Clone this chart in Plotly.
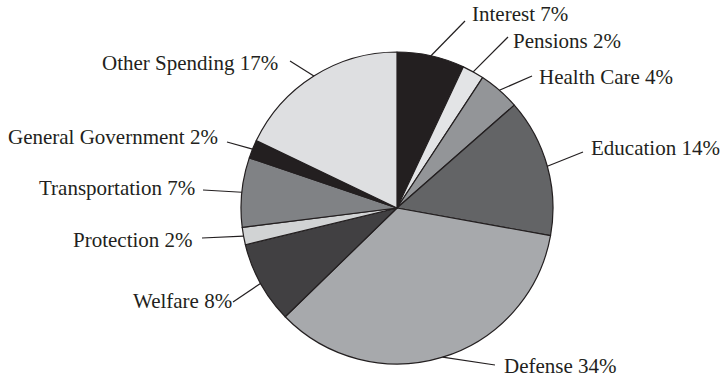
import math
import plotly.graph_objects as go

# ---- data ----
categories = ["Interest", "Pensions", "Health Care", "Education", "Defense",
              "Welfare", "Protection", "Transportation", "General Government",
              "Other Spending"]
shares = [7.0, 2.25, 4.3, 14.3, 34.9, 8.5, 1.8, 7.2, 1.9, 17.9]
pct_labels = ["7%", "2%", "4%", "14%", "34%", "8%", "2%", "7%", "2%", "17%"]

# ---- styles / layout ----
colors = ["#231f20", "#e3e4e6", "#939598", "#636466", "#a7a9ac",
          "#414042", "#d1d3d4", "#808285", "#231f20", "#dedfe1"]
W, H = 724, 380
CX, CY, R = 397, 208, 156
# text anchor (px): x edge, y centre, side ; leader end point (px)
label_pos = [
    (470, 14, "left", 465, 21),
    (511, 41, "left", 508, 37),
    (537, 77, "left", 532, 76),
    (589, 148, "left", 583, 152),
    (502, 366, "left", 495, 365),
    (234, 301, "right", 233, 302),
    (195, 240, "right", 202, 238),
    (197, 188, "right", 203, 190),
    (220, 137, "right", 227, 142),
    (280, 63, "right", 290, 61),
]

def px(x):
    return x / W

def py(y):
    return 1 - y / H

fig = go.Figure(go.Pie(
    labels=categories, values=shares, sort=False, direction="clockwise",
    rotation=0, textinfo="none", hoverinfo="label+percent",
    marker=dict(colors=colors, line=dict(color="#231f20", width=1.2)),
    domain=dict(x=[px(CX - R), px(CX + R)], y=[py(CY + R), py(CY - R)]),
))

total = sum(shares)
cum = 0.0
shapes, annotations = [], []
for cat, v, lab, pos in zip(categories, shares, pct_labels, label_pos):
    mid = (cum + v / 2) / total * 2 * math.pi
    cum += v
    sx = CX + R * math.sin(mid)
    sy = CY - R * math.cos(mid)
    tx, ty, side, ex, ey = pos
    shapes.append(dict(type="line", xref="paper", yref="paper",
                       x0=px(sx), y0=py(sy), x1=px(ex), y1=py(ey),
                       line=dict(color="#231f20", width=1.2)))
    annotations.append(dict(text=f"{cat} {lab}", xref="paper", yref="paper",
                            x=px(tx), y=py(ty), xanchor=side, yanchor="middle",
                            showarrow=False,
                            font=dict(family="Liberation Serif", size=21,
                                      color="#231f20")))

fig.update_layout(
    width=W, height=H, margin=dict(l=0, r=0, t=0, b=0),
    paper_bgcolor="white", plot_bgcolor="white", showlegend=False,
    shapes=shapes, annotations=annotations,
)
fig.write_html("out.html")
